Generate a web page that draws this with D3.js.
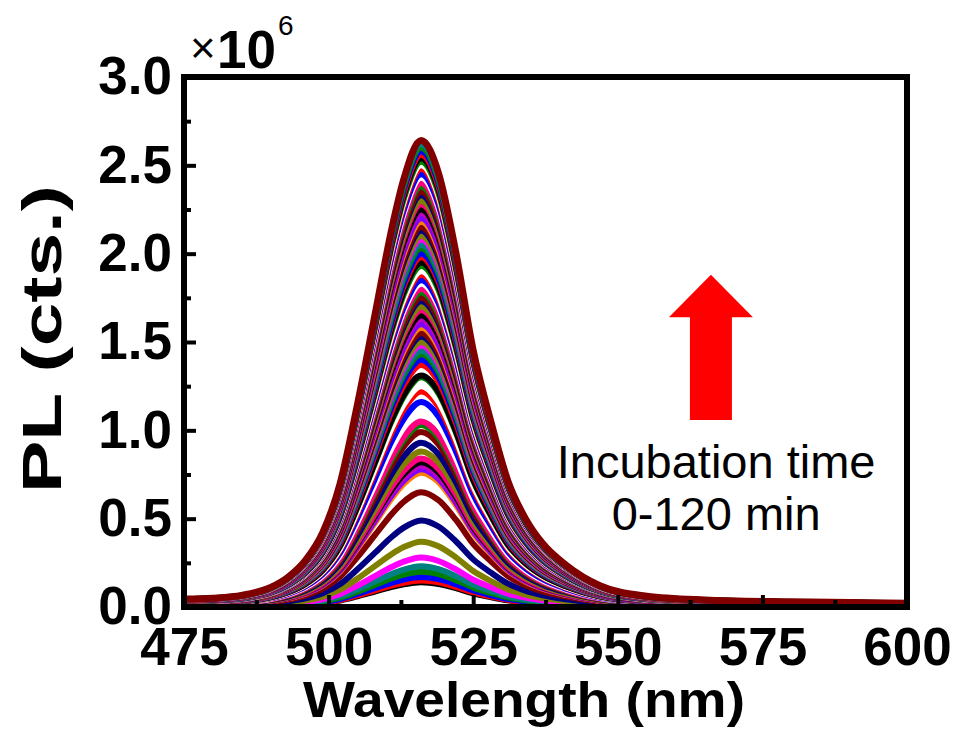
<!DOCTYPE html>
<html>
<head>
<meta charset="utf-8">
<script src="https://cdn.jsdelivr.net/npm/d3@7"></script>
<style>
  body { margin: 0; background: #fff; }
  text { font-family: "Liberation Sans", Arial, sans-serif; }
</style>
</head>
<body>
<div id="chart-area"></div>
<script>
// spectral profile of the envelope, normalised to its peak
const profileWl = [475, 480, 485, 490, 493, 496, 499, 502, 505, 508, 511, 513, 516, 519, 522, 525, 528, 531, 534, 537, 541, 547, 555, 565, 580, 600]
const profileRel = [0.017, 0.019, 0.025, 0.042, 0.064, 0.10, 0.16, 0.265, 0.435, 0.625, 0.815, 0.917, 1.0, 0.93, 0.76, 0.55, 0.40, 0.27, 0.19, 0.136, 0.09, 0.045, 0.023, 0.015, 0.011, 0.008]

// peak PL of each spectrum (x10^6 cts), incubation 0 -> 120 min
const peaks = [0.14, 0.15, 0.17, 0.20, 0.23, 0.28, 0.37, 0.49, 0.65, 0.76, 0.78, 0.80, 0.82, 0.84, 0.88, 0.93, 0.99, 1.03, 1.05, 1.11,
  1.16, 1.22, 1.25, 1.30, 1.31, 1.37, 1.40, 1.43, 1.45, 1.48, 1.50, 1.53, 1.55, 1.58, 1.60, 1.63, 1.65, 1.68, 1.70, 1.73,
  1.75, 1.78, 1.80, 1.83, 1.85, 1.88, 1.90, 1.93, 1.95, 1.98, 2.00, 2.03, 2.05, 2.08, 2.10, 2.13, 2.15, 2.18, 2.20, 2.23,
  2.25, 2.28, 2.30, 2.33, 2.35, 2.38, 2.40, 2.43, 2.45, 2.48, 2.50, 2.52, 2.54, 2.56, 2.58, 2.60, 2.62, 2.64]

const xTicks = [475, 500, 525, 550, 575, 600]
const yTicks = [0, 0.5, 1.0, 1.5, 2.0, 2.5, 3.0]

const palette = ["#000000", "#FF0000", "#0000FF", "#008000", "#008080", "#FF00FF", "#808000", "#000080",
  "#800000", "#FF8000", "#8000FF", "#C000C0", "#000000", "#FF0080", "#808000", "#000080",
  "#800000", "#008000", "#FF0080", "#FFFFFF", "#0000FF", "#FF0000", "#FFFFFF", "#008000"]

const W = 958, H = 731
const MARGIN = { LEFT: 184, RIGHT: 51, TOP: 77, BOTTOM: 124 }
const WIDTH = W - MARGIN.LEFT - MARGIN.RIGHT
const HEIGHT = H - MARGIN.TOP - MARGIN.BOTTOM

const svg = d3.select("#chart-area").append("svg")
  .attr("width", W)
  .attr("height", H)

const g = svg.append("g")
  .attr("transform", `translate(${MARGIN.LEFT}, ${MARGIN.TOP})`)

const x = d3.scaleLinear().domain([475, 600]).range([0, WIDTH])
const y = d3.scaleLinear().domain([0, 3.0]).range([HEIGHT, 0])

const line = d3.line()
  .x(d => x(d[0]))
  .y(d => y(d[1]))
  .curve(d3.curveMonotoneX)

const spectra = peaks.map(p => profileWl.map((w, i) => [w, p * profileRel[i]]))
const last = spectra.length - 1

g.selectAll("path.spec")
  .data(spectra)
  .enter().append("path")
    .attr("class", "spec")
    .attr("d", line)
    .attr("fill", "none")
    .attr("stroke", (d, i) => i === last ? "#800000" : palette[i % palette.length])
    .attr("stroke-width", (d, i) => i === last ? 7 : 6)
    .attr("stroke-linejoin", "round")

// minor ticks
g.append("g")
  .call(d3.axisLeft(y).tickValues(d3.range(0.25, 3, 0.5)).tickSize(-7).tickFormat(""))
  .call(a => a.select(".domain").remove())
  .selectAll("line").attr("stroke-width", 4)
g.append("g")
  .attr("transform", `translate(0, ${HEIGHT})`)
  .call(d3.axisBottom(x).tickValues(d3.range(487.5, 600, 25)).tickSize(-7).tickFormat(""))
  .call(a => a.select(".domain").remove())
  .selectAll("line").attr("stroke-width", 4)

// major ticks + labels
const yAxis = g.append("g")
  .call(d3.axisLeft(y).tickValues(yTicks).tickSize(-12).tickPadding(12).tickFormat(d3.format(".1f")))
yAxis.select(".domain").remove()
yAxis.selectAll("line").attr("stroke-width", 4)
yAxis.selectAll("text")
  .attr("font-size", "53px").attr("font-weight", "bold").attr("fill", "#000")

const xAxis = g.append("g")
  .attr("transform", `translate(0, ${HEIGHT})`)
  .call(d3.axisBottom(x).tickValues(xTicks).tickSize(-12).tickPadding(20))
xAxis.select(".domain").remove()
xAxis.selectAll("line").attr("stroke-width", 4)
xAxis.selectAll("text")
  .attr("font-size", "53px").attr("font-weight", "bold").attr("fill", "#000")

// frame
g.append("rect")
  .attr("width", WIDTH)
  .attr("height", HEIGHT)
  .attr("fill", "none")
  .attr("stroke", "#000")
  .attr("stroke-width", 6)

// x10^6
g.append("text")
  .attr("x", 6).attr("y", -14)
  .attr("font-size", "44px")
  .text("×")
g.append("text")
  .attr("x", 33).attr("y", -9)
  .attr("font-size", "53px").attr("font-weight", "bold")
  .text("10")
g.append("text")
  .attr("x", 94).attr("y", -42)
  .attr("font-size", "28px")
  .text("6")

// axis titles
svg.append("text")
  .attr("transform", `translate(61, 339) rotate(-90)`)
  .attr("text-anchor", "middle")
  .attr("font-size", "56px").attr("font-weight", "bold")
  .attr("textLength", 308).attr("lengthAdjust", "spacingAndGlyphs")
  .text("PL (cts.)")

svg.append("text")
  .attr("x", 524).attr("y", 717)
  .attr("text-anchor", "middle")
  .attr("font-size", "50px").attr("font-weight", "bold")
  .attr("textLength", 442).attr("lengthAdjust", "spacingAndGlyphs")
  .text("Wavelength (nm)")

// arrow annotation
const ax = x(566.1)
const arrow = [
  [ax, y(1.88)],
  [ax + 42, y(1.64)],
  [ax + 21, y(1.64)],
  [ax + 21, y(1.058)],
  [ax - 21, y(1.058)],
  [ax - 21, y(1.64)],
  [ax - 42, y(1.64)]
]
g.append("path")
  .attr("d", "M" + arrow.join("L") + "Z")
  .attr("fill", "#FF0000")

g.append("text")
  .attr("x", x(567)).attr("y", y(0.73))
  .attr("text-anchor", "middle")
  .attr("font-size", "47px")
  .text("Incubation time")
g.append("text")
  .attr("x", x(567)).attr("y", y(0.436))
  .attr("text-anchor", "middle")
  .attr("font-size", "47px")
  .text("0-120 min")
</script>
</body>
</html>
